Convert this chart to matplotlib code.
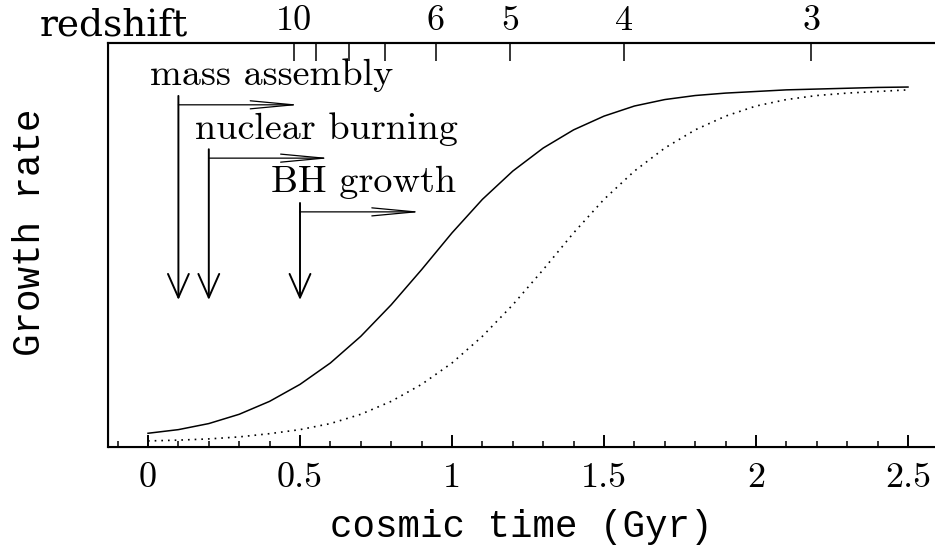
import matplotlib
matplotlib.use("Agg")
import matplotlib.pyplot as plt

# cosmic time grid (Gyr) and the two growth curves (arbitrary units)
time_gyr = [0.0, 0.1, 0.2, 0.3, 0.4, 0.5, 0.6, 0.7, 0.8, 0.9, 1.0, 1.1, 1.2,
            1.3, 1.4, 1.5, 1.6, 1.7, 1.8, 1.9, 2.0, 2.1, 2.2, 2.3, 2.4, 2.5]
growth_solid = [0.034, 0.043, 0.058, 0.081, 0.113, 0.155, 0.208, 0.274, 0.352,
                0.439, 0.530, 0.613, 0.683, 0.740, 0.785, 0.819, 0.844, 0.860,
                0.870, 0.876, 0.880, 0.884, 0.886, 0.888, 0.890, 0.891]
growth_dotted = [0.015, 0.017, 0.020, 0.025, 0.033, 0.043, 0.058, 0.081, 0.113,
                 0.155, 0.208, 0.274, 0.352, 0.439, 0.530, 0.613, 0.683, 0.740,
                 0.785, 0.819, 0.844, 0.860, 0.870, 0.876, 0.880, 0.884]

# top axis: redshift ticks and the cosmic time where they sit
redshift_ticks = [10, 9, 8, 7, 6, 5, 4, 3]
redshift_time = [0.480, 0.553, 0.661, 0.780, 0.947, 1.191, 1.566, 2.181]
redshift_shown = [10, 6, 5, 4, 3]

# processes: name, onset (Gyr), length of the "continues" arrow (Gyr)
events = ['mass assembly', 'nuclear burning', 'BH growth']
event_start = [0.1, 0.2, 0.5]
event_span = [0.4, 0.4, 0.4]

# layout for the annotations (axes data units)
text_x = [0.007, 0.155, 0.404]
text_y = [0.896, 0.762, 0.631]
vert_top = [0.869, 0.737, 0.604]
horiz_y = [0.847, 0.715, 0.582]
arrow_tip = 0.364

W, H = 935, 550
fig = plt.figure(figsize=(W / 100, H / 100), dpi=100)
ax = fig.add_axes([108 / W, (H - 447) / H, (W - 108) / W, 404 / H])

ax.plot(time_gyr, growth_solid, color='black', lw=1.1)
ax.plot(time_gyr, growth_dotted, color='black', lw=1.2, linestyle=(0, (1, 3)))

xlim = ((108 - 148) / 304, (W - 148) / 304)
ax.set_xlim(xlim)
ax.set_ylim(0, 1)
ax.set_yticks([])

for s in ['left', 'bottom', 'top']:
    ax.spines[s].set_linewidth(1.5)
ax.spines['right'].set_visible(False)

ax.set_xticks([0, 0.5, 1, 1.5, 2, 2.5])
ax.set_xticklabels(['0', '0.5', '1', '1.5', '2', '2.5'])
ax.set_xticks([i / 10 for i in range(-1, 26)], minor=True)
ax.tick_params(axis='x', which='major', direction='in', length=8.6, width=1.4,
               pad=11, labelsize=26)
ax.tick_params(axis='x', which='minor', direction='in', length=4.3, width=1.1)
for lab in ax.get_xticklabels():
    lab.set_family('cmr10')

# redshift axis on top
ax2 = ax.twiny()
ax2.set_xlim(xlim)
ax2.spines['right'].set_visible(False)
ax2.spines['top'].set_linewidth(1.5)
ax2.set_xticks(redshift_time)
ax2.set_xticklabels([str(z) if z in redshift_shown else '' for z in redshift_ticks])
ax2.tick_params(axis='x', direction='in', length=13, width=1.1, pad=4, labelsize=26)
for lab in ax2.get_xticklabels():
    lab.set_family('cmr10')

fig.text(40 / W, (H - 36) / H, 'redshift', family='DejaVu Serif', fontsize=27,
         va='baseline', ha='left')

# annotations
for name, t0, span, tx, ty, vt, hy in zip(events, event_start, event_span,
                                          text_x, text_y, vert_top, horiz_y):
    ax.text(tx, ty, name, family='cmr10', fontsize=27.5, va='baseline', ha='left')
    ax.annotate('', xy=(t0, arrow_tip), xytext=(t0, vt),
                arrowprops=dict(arrowstyle='->,head_length=17,head_width=7.5',
                                mutation_scale=1, lw=1.4, color='black',
                                shrinkA=0, shrinkB=0))
    ax.annotate('', xy=(t0 + span, hy), xytext=(t0, hy),
                arrowprops=dict(arrowstyle='->,head_length=31,head_width=2.9',
                                mutation_scale=1, lw=0.9, color='black',
                                shrinkA=0, shrinkB=0))

fig.text(521.5 / W, (H - 537) / H, 'cosmic time (Gyr)', family='Liberation Mono',
         fontsize=27, ha='center', va='baseline')
fig.text(30 / W, 1 - 232 / H, 'Growth rate', family='Liberation Mono',
         fontsize=27, rotation=90, ha='center', va='center')

fig.savefig('out.png', dpi=100)
